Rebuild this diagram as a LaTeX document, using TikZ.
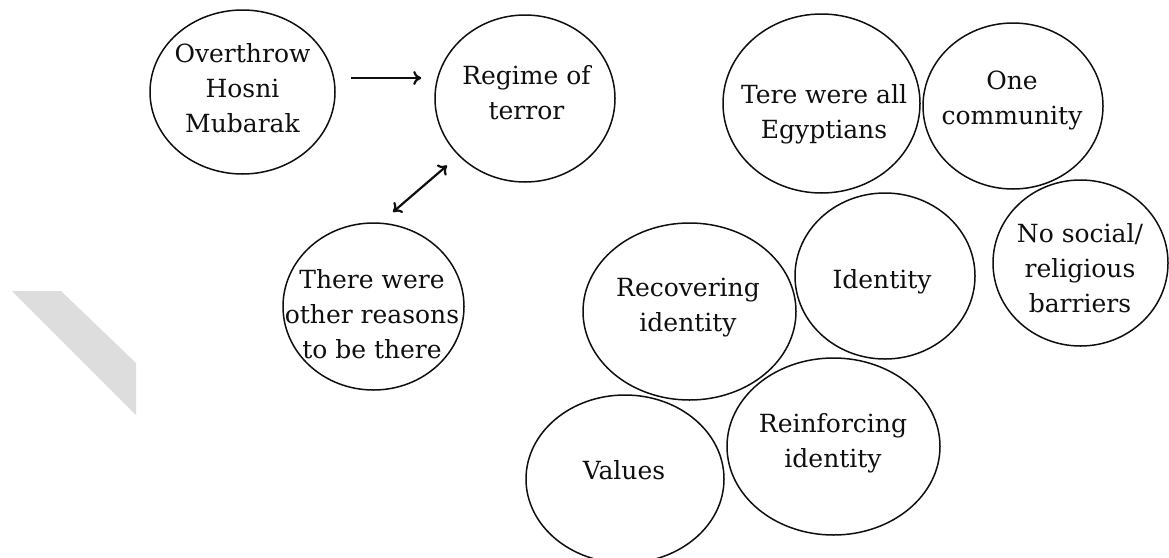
\documentclass[tikz,border=0pt]{standalone}
\usepackage{fontspec}
\setmainfont{DejaVu Serif}
\usetikzlibrary{shapes.geometric,arrows.meta}

\definecolor{inkc}{RGB}{15,15,15}
\definecolor{bandc}{RGB}{221,221,221}

\tikzset{
  bubble/.style={draw=inkc, ellipse, line width=1.5pt, inner sep=0pt},
  words/.style={align=center, text=inkc, inner sep=0pt,
                font=\fontsize{25}{35}\selectfont},
  tip/.style={To[length=8pt,width=14pt,line width=2pt]},
  arr/.style={draw=inkc, line width=2.2pt, -{To[length=8pt,width=14pt]}},
  darr/.style={draw=inkc, line width=2.2pt, {To[length=8pt,width=14pt]}-{To[length=8pt,width=14pt]}}
}

\begin{document}
\begin{tikzpicture}[x=1pt, y=-1pt]
\useasboundingbox (0,0) rectangle (1169,557);

% light diagonal band at the left edge
\fill[bandc] (12,291) -- (61,291) -- (136,363) -- (136,415) -- cycle;

% outlines
\node[bubble, minimum width=185pt, minimum height=164pt] (over)   at (242.5,92)   {};
\node[bubble, minimum width=180pt, minimum height=167pt] (regime) at (525,98.5)   {};
\node[bubble, minimum width=181pt, minimum height=167pt] (there)  at (373.5,306.5) {};
\node[bubble, minimum width=197pt, minimum height=179pt] (tere)   at (821.5,103.5) {};
\node[bubble, minimum width=180pt, minimum height=166pt] (one)    at (1013,106)   {};
\node[bubble, minimum width=175pt, minimum height=166pt] (nosoc)  at (1080.5,263) {};
\node[bubble, minimum width=180pt, minimum height=166pt] (ident)  at (885,276)    {};
\node[bubble, minimum width=213pt, minimum height=177pt] (recov)  at (689.5,311.5) {};
\node[bubble, minimum width=198pt, minimum height=168pt] (values) at (625,479)    {};
\node[bubble, minimum width=213pt, minimum height=177pt] (reinf)  at (833.5,446.5) {};

% labels
\node[words] (over-t)   at (242.5,88.5) {Overthrow\\Hosni\\Mubarak};
\node[words] (regime-t) at (526.5,93)   {Regime of\\terror};
\node[words] (there-t)  at (372,314)    {There were\\other reasons\\to be there};
\node[words] (tere-t)   at (824,114)    {Tere were all\\Egyptians};
\node[words] (one-t)    at (1012,100.5) {One\\community};
\node[words] (nosoc-t)  at (1080,268.5) {No social/\\religious\\barriers};
\node[words] (ident-t)  at (882,281.5)  {Identity};
\node[words] (recov-t)  at (688,308)    {Recovering\\identity};
\node[words] (values-t) at (624,470)    {Values};
\node[words] (reinf-t)  at (833,443.5)  {Reinforcing\\identity};

% connectors
\draw[arr, shorten <=15pt, shorten >=13pt] (over.east |- 0,78) -- (regime.west |- 0,78);
\coordinate (dfree) at (393,212);
\draw[darr, shorten >=15pt] (dfree) -- (regime);
\end{tikzpicture}
\end{document}
